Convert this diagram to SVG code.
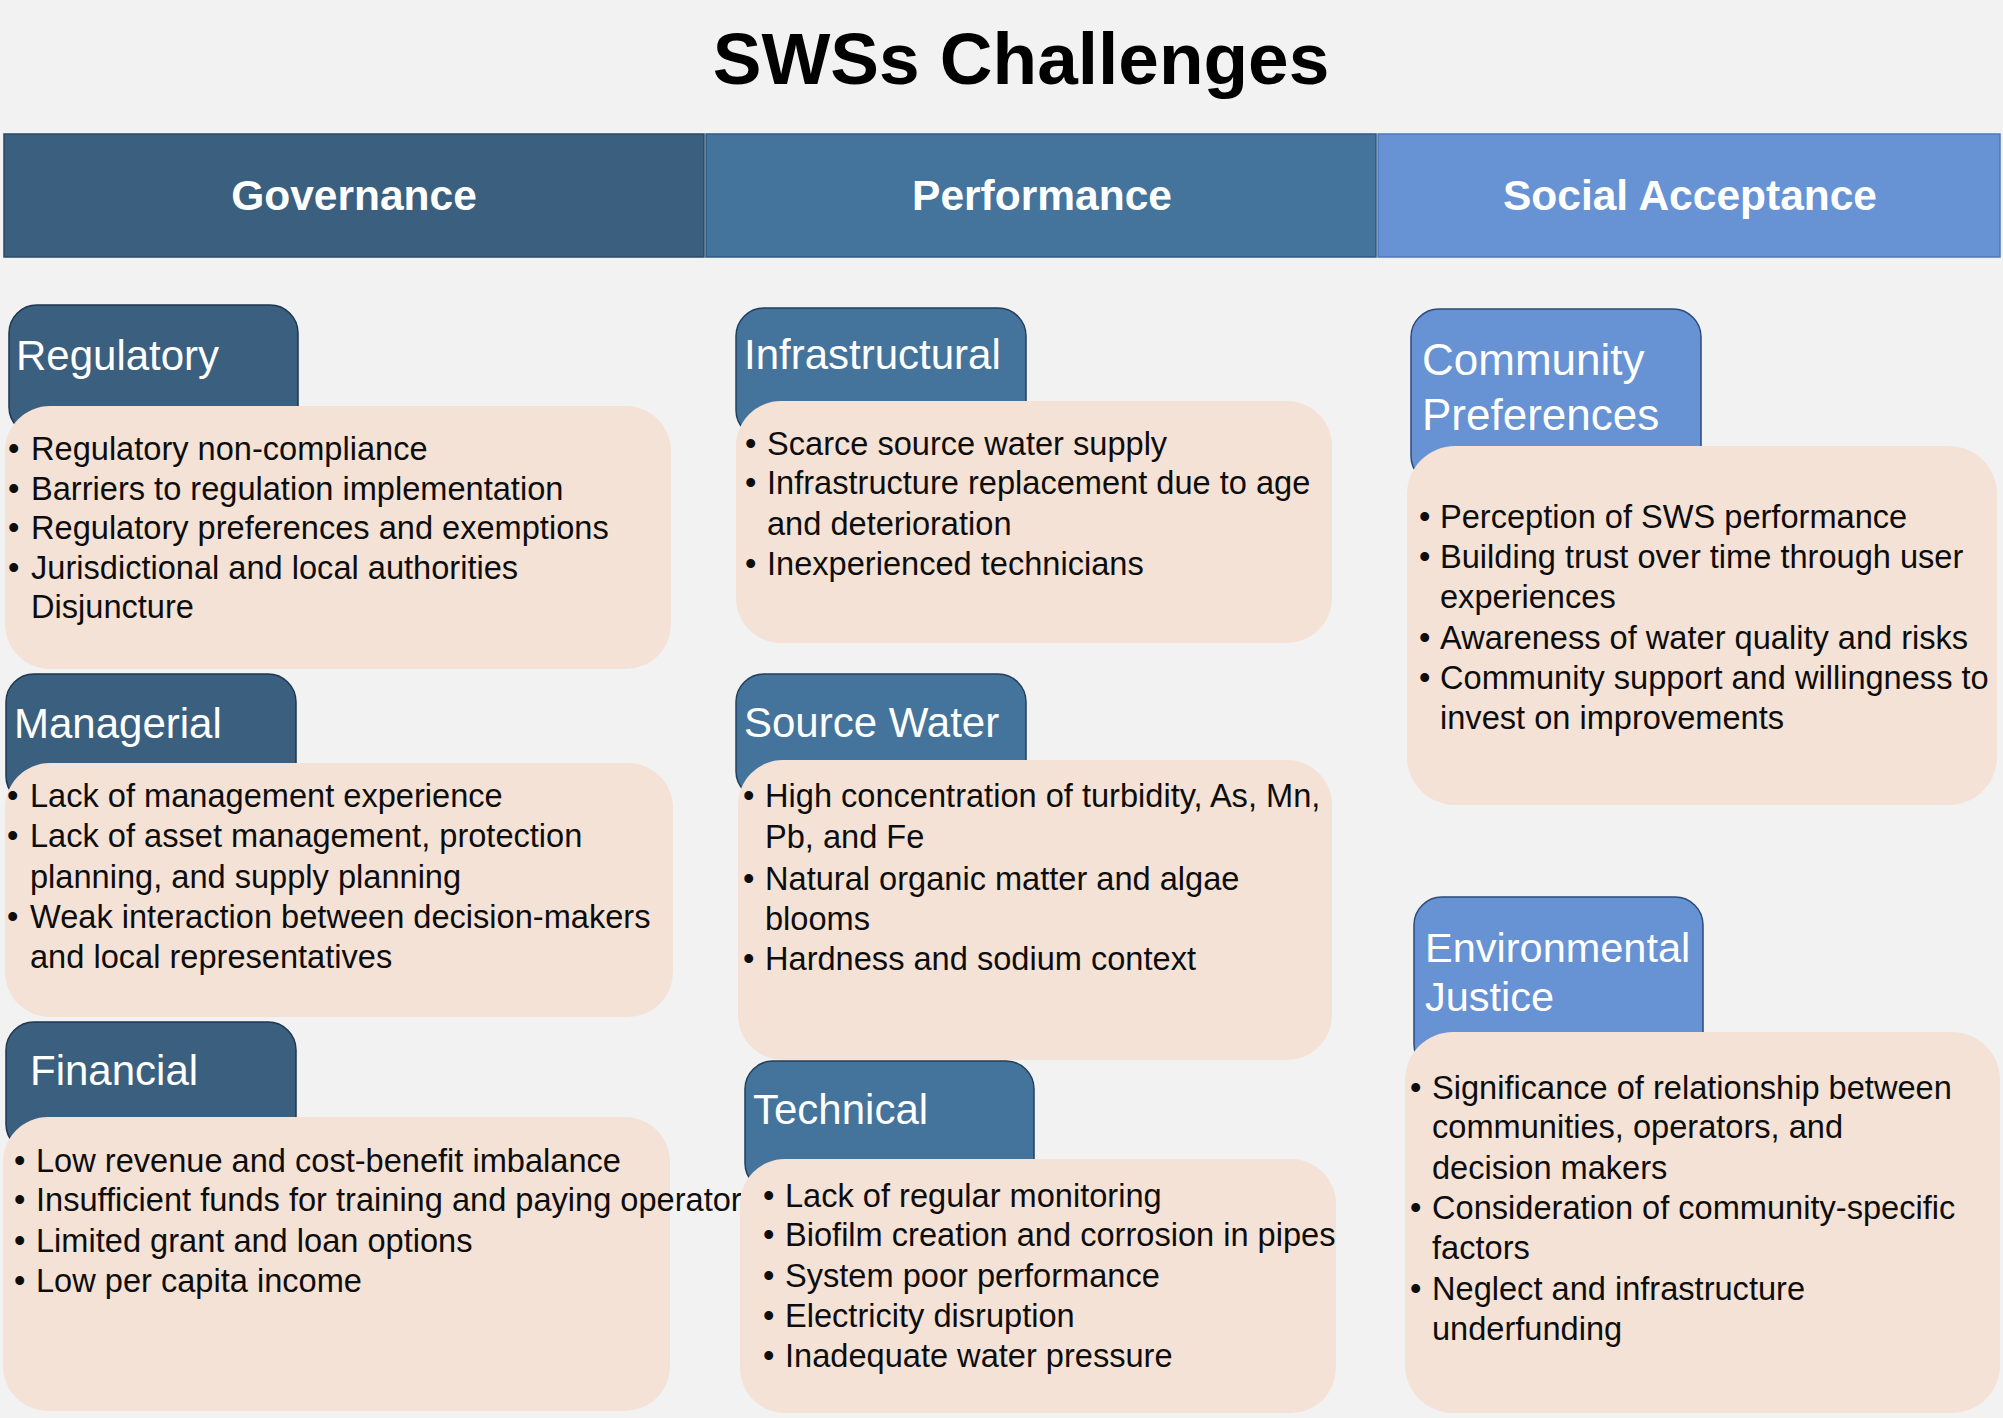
<svg xmlns="http://www.w3.org/2000/svg" width="2003" height="1418" viewBox="0 0 2003 1418">
<style>
.bg{fill:#F2F2F2}
.title{font-family:"Liberation Sans",Arial,sans-serif;font-weight:bold;font-size:73px;fill:#000;text-anchor:middle}
.hdr{font-family:"Liberation Sans",Arial,sans-serif;font-weight:bold;font-size:42.5px;fill:#fff;text-anchor:middle}
.tabg{fill:#3A5F7F;stroke:#1E3650;stroke-width:1.5}
.tabp{fill:#44749C;stroke:#223F5C;stroke-width:1.5}
.tabs{fill:#6792D4;stroke:#2C4A7A;stroke-width:1.5}
.box{fill:#F4E2D6}
.lbl{font-family:"Liberation Sans",Arial,sans-serif;font-size:42px;fill:#fff}
.lbl2{font-family:"Liberation Sans",Arial,sans-serif;font-size:44px;fill:#fff}
.lbl3{font-family:"Liberation Sans",Arial,sans-serif;font-size:41.5px;fill:#fff}
.txt{font-family:"Liberation Sans",Arial,sans-serif;font-size:32.6px;fill:#0D0D0D}
</style>
<rect class="bg" x="0" y="0" width="2003" height="1418"/>
<g id="title"><text class="title" x="1021" y="84">SWSs Challenges</text></g>
<g id="header">
<rect x="4" y="134" width="700" height="123" fill="#3A5F7F" stroke="#2A4A66" stroke-width="1.5"/>
<rect x="706" y="134" width="670" height="123" fill="#44749C" stroke="#2F5A80" stroke-width="1.5"/>
<rect x="1378" y="134" width="622" height="123" fill="#6792D4" stroke="#4F78B8" stroke-width="1.5"/>
<text class="hdr" x="354" y="210">Governance</text>
<text class="hdr" x="1042" y="210">Performance</text>
<text class="hdr" x="1690" y="210">Social Acceptance</text>
</g>

<g id="regulatory">
<rect class="tabg" x="9" y="305" width="289" height="130" rx="28"/>
<text class="lbl" x="16" y="370">Regulatory</text>
<rect class="box" x="5" y="406" width="666" height="263" rx="45"/>
<text class="txt"><tspan x="8" y="460">•</tspan><tspan x="31">Regulatory non-compliance</tspan><tspan x="8" y="500">•</tspan><tspan x="31">Barriers to regulation implementation</tspan><tspan x="8" y="539">•</tspan><tspan x="31">Regulatory preferences and exemptions</tspan><tspan x="8" y="579">•</tspan><tspan x="31">Jurisdictional and local authorities</tspan><tspan x="31" y="618">Disjuncture</tspan></text>
</g>

<g id="managerial">
<rect class="tabg" x="6" y="674" width="290" height="130" rx="28"/>
<text class="lbl" x="14" y="738">Managerial</text>
<rect class="box" x="5" y="763" width="668" height="254" rx="45"/>
<text class="txt"><tspan x="7" y="807">•</tspan><tspan x="30">Lack of management experience</tspan><tspan x="7" y="847">•</tspan><tspan x="30">Lack of asset management, protection</tspan><tspan x="30" y="888">planning, and supply planning</tspan><tspan x="7" y="928">•</tspan><tspan x="30">Weak interaction between decision-makers</tspan><tspan x="30" y="968">and local representatives</tspan></text>
</g>

<g id="financial">
<rect class="tabg" x="6" y="1022" width="290" height="130" rx="28"/>
<text class="lbl" x="30" y="1085">Financial</text>
<rect class="box" x="3" y="1117" width="667" height="294" rx="45"/>
<text class="txt"><tspan x="14" y="1172">•</tspan><tspan x="36">Low revenue and cost-benefit imbalance</tspan><tspan x="14" y="1211">•</tspan><tspan x="36">Insufficient funds for training and paying operator</tspan><tspan x="14" y="1252">•</tspan><tspan x="36">Limited grant and loan options</tspan><tspan x="14" y="1292">•</tspan><tspan x="36">Low per capita income</tspan></text>
</g>

<g id="infrastructural">
<rect class="tabp" x="736" y="308" width="290" height="130" rx="28"/>
<text class="lbl" x="744" y="369">Infrastructural</text>
<rect class="box" x="736" y="401" width="596" height="242" rx="45"/>
<text class="txt"><tspan x="745" y="455">•</tspan><tspan x="767">Scarce source water supply</tspan><tspan x="745" y="494">•</tspan><tspan x="767">Infrastructure replacement due to age</tspan><tspan x="767" y="535">and deterioration</tspan><tspan x="745" y="575">•</tspan><tspan x="767">Inexperienced technicians</tspan></text>
</g>

<g id="source-water">
<rect class="tabp" x="736" y="674" width="290" height="125" rx="28"/>
<text class="lbl" x="744" y="737">Source Water</text>
<rect class="box" x="738" y="760" width="594" height="300" rx="45"/>
<text class="txt"><tspan x="743" y="807">•</tspan><tspan x="765">High concentration of turbidity, As, Mn,</tspan><tspan x="765" y="848">Pb, and Fe</tspan><tspan x="743" y="890">•</tspan><tspan x="765">Natural organic matter and algae</tspan><tspan x="765" y="930">blooms</tspan><tspan x="743" y="970">•</tspan><tspan x="765">Hardness and sodium context</tspan></text>
</g>

<g id="technical">
<rect class="tabp" x="745" y="1061" width="289" height="130" rx="28"/>
<text class="lbl" x="753" y="1124">Technical</text>
<rect class="box" x="740" y="1159" width="596" height="254" rx="45"/>
<text class="txt"><tspan x="763" y="1207">•</tspan><tspan x="785">Lack of regular monitoring</tspan><tspan x="763" y="1246">•</tspan><tspan x="785">Biofilm creation and corrosion in pipes</tspan><tspan x="763" y="1287">•</tspan><tspan x="785">System poor performance</tspan><tspan x="763" y="1327">•</tspan><tspan x="785">Electricity disruption</tspan><tspan x="763" y="1367">•</tspan><tspan x="785">Inadequate water pressure</tspan></text>
</g>

<g id="community-preferences">
<rect class="tabs" x="1411" y="309" width="290" height="175" rx="28"/>
<text class="lbl2"><tspan x="1422" y="375">Community</tspan><tspan x="1422" y="430">Preferences</tspan></text>
<rect class="box" x="1407" y="446" width="590" height="359" rx="48"/>
<text class="txt"><tspan x="1419" y="528">•</tspan><tspan x="1440">Perception of SWS performance</tspan><tspan x="1419" y="568">•</tspan><tspan x="1440">Building trust over time through user</tspan><tspan x="1440" y="608">experiences</tspan><tspan x="1419" y="649">•</tspan><tspan x="1440">Awareness of water quality and risks</tspan><tspan x="1419" y="689">•</tspan><tspan x="1440">Community support and willingness to</tspan><tspan x="1440" y="729">invest on improvements</tspan></text>
</g>

<g id="environmental-justice">
<rect class="tabs" x="1414" y="897" width="289" height="175" rx="28"/>
<text class="lbl3"><tspan x="1425" y="962">Environmental</tspan><tspan x="1425" y="1011">Justice</tspan></text>
<rect class="box" x="1405" y="1032" width="595" height="381" rx="48"/>
<text class="txt"><tspan x="1410" y="1099">•</tspan><tspan x="1432">Significance of relationship between</tspan><tspan x="1432" y="1138">communities, operators, and</tspan><tspan x="1432" y="1179">decision makers</tspan><tspan x="1410" y="1219">•</tspan><tspan x="1432">Consideration of community-specific</tspan><tspan x="1432" y="1259">factors</tspan><tspan x="1410" y="1300">•</tspan><tspan x="1432">Neglect and infrastructure</tspan><tspan x="1432" y="1340">underfunding</tspan></text>
</g>
<g id="connectors"/>
</svg>
